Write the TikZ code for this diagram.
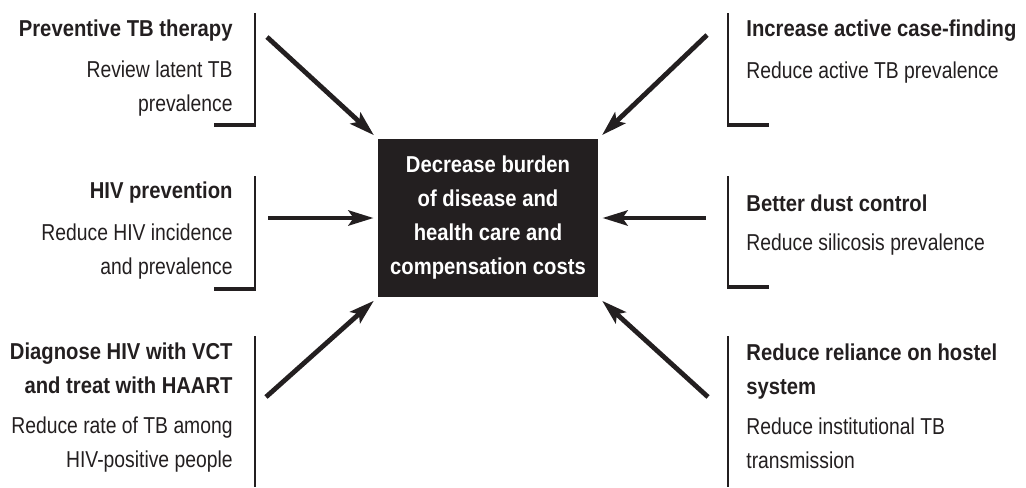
\documentclass[tikz,border=0pt]{standalone}
\usepackage{fontspec}
\setmainfont{Liberation Sans}[FakeStretch=0.84]
\newfontfamily\headfont{Liberation Sans}[FakeStretch=0.88]
\usepackage{xcolor}
\usepackage{tikz}
\usetikzlibrary{arrows.meta}
\usetikzlibrary{calc}
\definecolor{ink}{HTML}{231F20}

\begin{document}
\begin{tikzpicture}[x=0.5pt, y=-0.5pt]
\tikzstyle{head}  = [font=\headfont\bfseries\fontsize{11.5}{16.75}\selectfont, text=ink, inner sep=0pt]
\tikzstyle{body}  = [font=\fontsize{11.5}{16.75}\selectfont, text=ink, inner sep=0pt]
\tikzstyle{arrow} = [draw=ink, line width=2.4pt, -{Stealth[length=12.5pt, width=7.5pt, inset=2.5pt]}, shorten >=2.5pt]
\tikzstyle{bar}   = [draw=ink, line width=1pt]
\tikzstyle{foot}  = [draw=ink, line width=2pt]
\useasboundingbox (0,0) rectangle (1026,487);
\node [fill=ink, text=white, inner sep=0pt, minimum width=110pt, minimum height=79pt, align=center,
       font=\headfont\bfseries\fontsize{11.5}{17}\selectfont](goal) at (488, 218)
  {Decrease burden\\of disease and\\health care and\\compensation costs};
 %%Left side (base = last line)
\node [head, anchor=base east, align=right](ptb) at (233, 36) {Preventive TB therapy};
\node [body, anchor=base east, align=right](ptbtxt) at (233, 111) {Review latent TB\\prevalence};
\node [head, anchor=base east, align=right](hiv) at (233, 198) {HIV prevention};
\node [body, anchor=base east, align=right](hivtxt) at (233, 274) {Reduce HIV incidence\\and prevalence};
\node [head, anchor=base east, align=right](vct) at (233, 393) {Diagnose HIV with VCT\\and treat with HAART};
\node [body, anchor=base east, align=right](vcttxt) at (233, 467) {Reduce rate of TB among\\HIV-positive people};
 %%Right side
\node [head, anchor=base west, align=left](acf) at (746, 36) {Increase active case-finding};
\node [body, anchor=base west, align=left](acftxt) at (746, 78) {Reduce active TB prevalence};
\node [head, anchor=base west, align=left](dust) at (746, 211) {Better dust control};
\node [body, anchor=base west, align=left](dusttxt) at (746, 250) {Reduce silicosis prevalence};
\node [head, anchor=base west, align=left](hostel) at (746, 394) {Reduce reliance on hostel\\system};
\node [body, anchor=base west, align=left](hosteltxt) at (746, 468) {Reduce institutional TB\\transmission};
 %%Brackets
\draw [bar] (255, 13) -- (255, 127);
\draw [foot] (214, 125) -- (256, 125);
\draw [bar] (255, 176) -- (255, 291);
\draw [foot] (214, 289) -- (256, 289);
\draw [bar] (255, 336) -- (255, 487);
\draw [bar] (728, 13) -- (728, 127);
\draw [foot] (727, 125) -- (769, 125);
\draw [bar] (728, 176) -- (728, 289);
\draw [foot] (727, 287) -- (769, 287);
\draw [bar] (728, 336) -- (728, 487);
 %%Arrows
\coordinate (s1) at (267, 37);
\coordinate (s2) at (707, 35);
\coordinate (s3) at (268, 218);
\coordinate (s4) at (706, 218);
\coordinate (s5) at (266, 397);
\coordinate (s6) at (708, 397);
\draw [arrow] (s1)--(goal.north west);
\draw [arrow] (s2)--(goal.north east);
\draw [arrow, shorten >=2pt] (s3)--(goal.west);
\draw [arrow, shorten >=2pt] (s4)--(goal.east);
\draw [arrow] (s5)--(goal.south west);
\draw [arrow] (s6)--(goal.south east);
\end{tikzpicture}
\end{document}
